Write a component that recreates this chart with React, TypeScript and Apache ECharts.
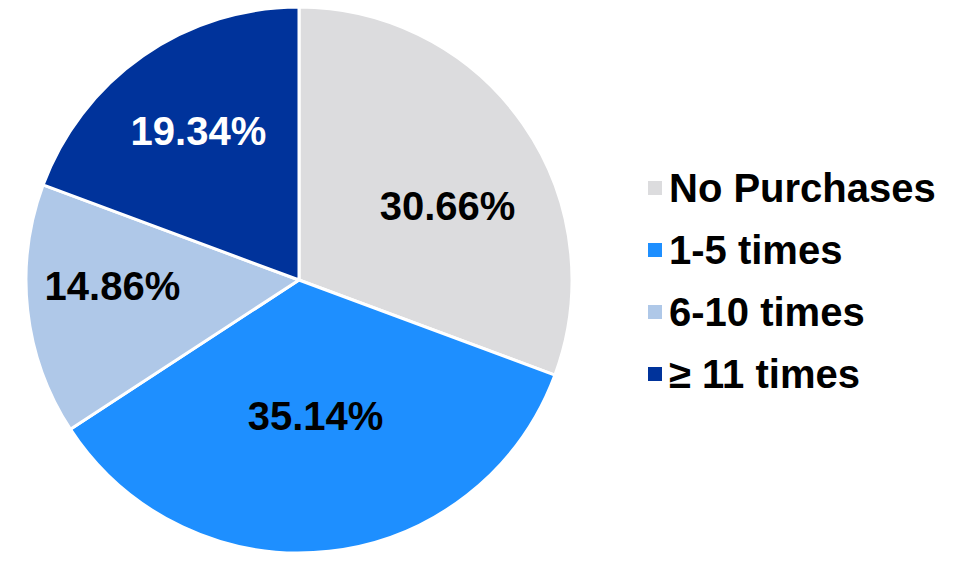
import React, { useEffect, useRef } from "react";
import * as echarts from "echarts";

const categories = ["No Purchases", "1-5 times", "6-10 times", "≥ 11 times"];
const values = [30.66, 35.14, 14.86, 19.34];
const colors = ["#DCDCDE", "#1E8FFF", "#AFC8E8", "#00339B"];
const labelOffsets: number[][] = [[34, 6], [1, -3], [-48, -9], [-21, -34]];

export default function App() {
  const ref = useRef<HTMLDivElement>(null);
  useEffect(() => {
    if (!ref.current) return;
    const chart = echarts.init(ref.current, undefined, { renderer: "svg" });
    chart.setOption({
      animation: false,
      backgroundColor: "#FFFFFF",
      legend: {
        orient: "vertical",
        left: 641,
        top: 163,
        itemWidth: 16,
        itemHeight: 16,
        itemGap: 22,
        icon: "rect",
        selectedMode: false,
        textStyle: {
          fontFamily: "Liberation Sans, Arial, sans-serif",
          fontWeight: "bold",
          fontSize: 40,
          color: "#000000",
          padding: [0, 0, 0, 1],
        },
        data: categories,
      },
      series: [
        {
          type: "pie",
          center: [299, 280],
          radius: [0, 273],
          startAngle: 90,
          clockwise: true,
          itemStyle: { borderColor: "#FFFFFF", borderWidth: 3 },
          emphasis: { disabled: true },
          label: {
            position: "inside",
            fontFamily: "Liberation Sans, Arial, sans-serif",
            fontWeight: "bold",
            fontSize: 40,
            formatter: (p: any) => p.value.toFixed(2) + "%",
          },
          labelLine: { show: false },
          data: categories.map((name, i) => ({
            name,
            value: values[i],
            itemStyle: { color: colors[i] },
            label: {
              color: i === 3 ? "#FFFFFF" : "#000000",
              offset: labelOffsets[i],
            },
          })),
        },
      ],
    });
    return () => chart.dispose();
  }, []);
  return (
    <div
      ref={ref}
      style={{ position: "fixed", left: 0, top: 0, width: 962, height: 566 }}
    />
  );
}
